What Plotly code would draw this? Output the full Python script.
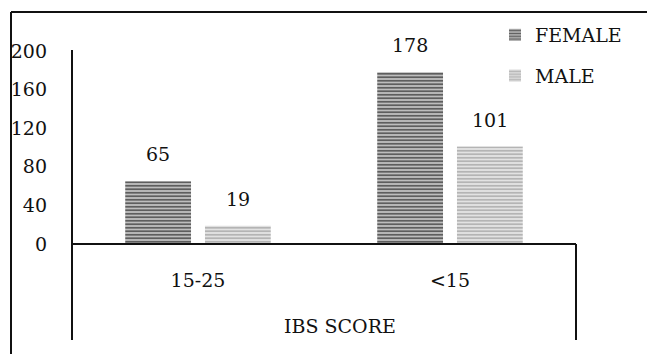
import plotly.graph_objects as go

# IBS score groups and counts by sex
categories = ["15-25", "<15"]
female = [65, 178]
male = [19, 101]
y_ticks = [0, 40, 80, 120, 160, 200]
x_title = "IBS SCORE"

W, H = 647, 354
ML, MR, MT, MB = 72, 71, 51, 110
PW, PH = W - ML - MR, H - MT - MB
BARGAP = 0.367
BARGROUPGAP = 0.175

FONT = dict(family="DejaVu Serif", size=19, color="#111111")


def paper_x(px):
    return (px - ML) / PW


def paper_y(py):
    return (H - MB - py) / PH


fig = go.Figure()
fig.add_trace(go.Bar(
    name="FEMALE", x=categories, y=female, legendgroup="f",
    marker=dict(color="#bdbdbd", line=dict(width=0),
                pattern=dict(shape="-", fgcolor="#5e5e5e", bgcolor="#bdbdbd",
                             size=3.5, solidity=0.5, fillmode="replace")),
))
fig.add_trace(go.Bar(
    name="MALE", x=categories, y=male, legendgroup="m",
    marker=dict(color="#e2e2e2", line=dict(width=0),
                pattern=dict(shape="-", fgcolor="#b4b4b4", bgcolor="#e2e2e2",
                             size=3.5, solidity=0.5, fillmode="replace")),
))

# value labels above each bar
cat_px = PW / len(categories)
slot = cat_px * (1 - BARGAP) / 2
for series, shift in ((female, -slot / 2), (male, slot / 2)):
    for c, v in zip(categories, series):
        fig.add_annotation(x=c, y=v, xref="x", yref="y", text=str(v),
                           showarrow=False, xshift=shift, yshift=27,
                           font=FONT)

# category axis title, set inside the band below the tick labels
fig.add_annotation(x=paper_x(340), y=paper_y(326), xref="paper", yref="paper",
                   text=x_title, showarrow=False, xanchor="center",
                   yanchor="middle", font=FONT)

line = dict(color="#111111", width=2)
shapes = [
    # value axis, extended down around the category band
    dict(type="line", xref="paper", yref="paper", x0=0, x1=0,
         y0=paper_y(50), y1=paper_y(340), line=line),
    # baseline
    dict(type="line", xref="paper", yref="paper", x0=0, x1=1,
         y0=0, y1=0, line=line),
    # right edge of category band
    dict(type="line", xref="paper", yref="paper", x0=1, x1=1,
         y0=0, y1=paper_y(340), line=line),
    # outer frame (top and left)
    dict(type="line", xref="paper", yref="paper", x0=paper_x(11), x1=paper_x(11),
         y0=paper_y(12), y1=paper_y(H + 5), line=line),
    dict(type="line", xref="paper", yref="paper", x0=paper_x(11), x1=paper_x(W + 5),
         y0=paper_y(12), y1=paper_y(12), line=line),
]

fig.update_layout(
    width=W, height=H,
    margin=dict(l=ML, r=MR, t=MT, b=MB, pad=0),
    paper_bgcolor="white", plot_bgcolor="white",
    font=FONT,
    barmode="group", bargap=BARGAP, bargroupgap=BARGROUPGAP,
    showlegend=True,
    legend=dict(x=paper_x(495), y=paper_y(16), xanchor="left", yanchor="top",
                traceorder="grouped", tracegroupgap=13,
                font=FONT, bgcolor="rgba(0,0,0,0)"),
    shapes=shapes,
    xaxis=dict(showline=False, showgrid=False, zeroline=False, ticks="",
               ticklabelstandoff=23, tickfont=FONT),
    yaxis=dict(range=[0, 200], tickvals=y_ticks, showline=False, showgrid=False,
               zeroline=False, ticks="", ticklabelstandoff=24, tickfont=FONT),
)

fig.write_html("out.html")
